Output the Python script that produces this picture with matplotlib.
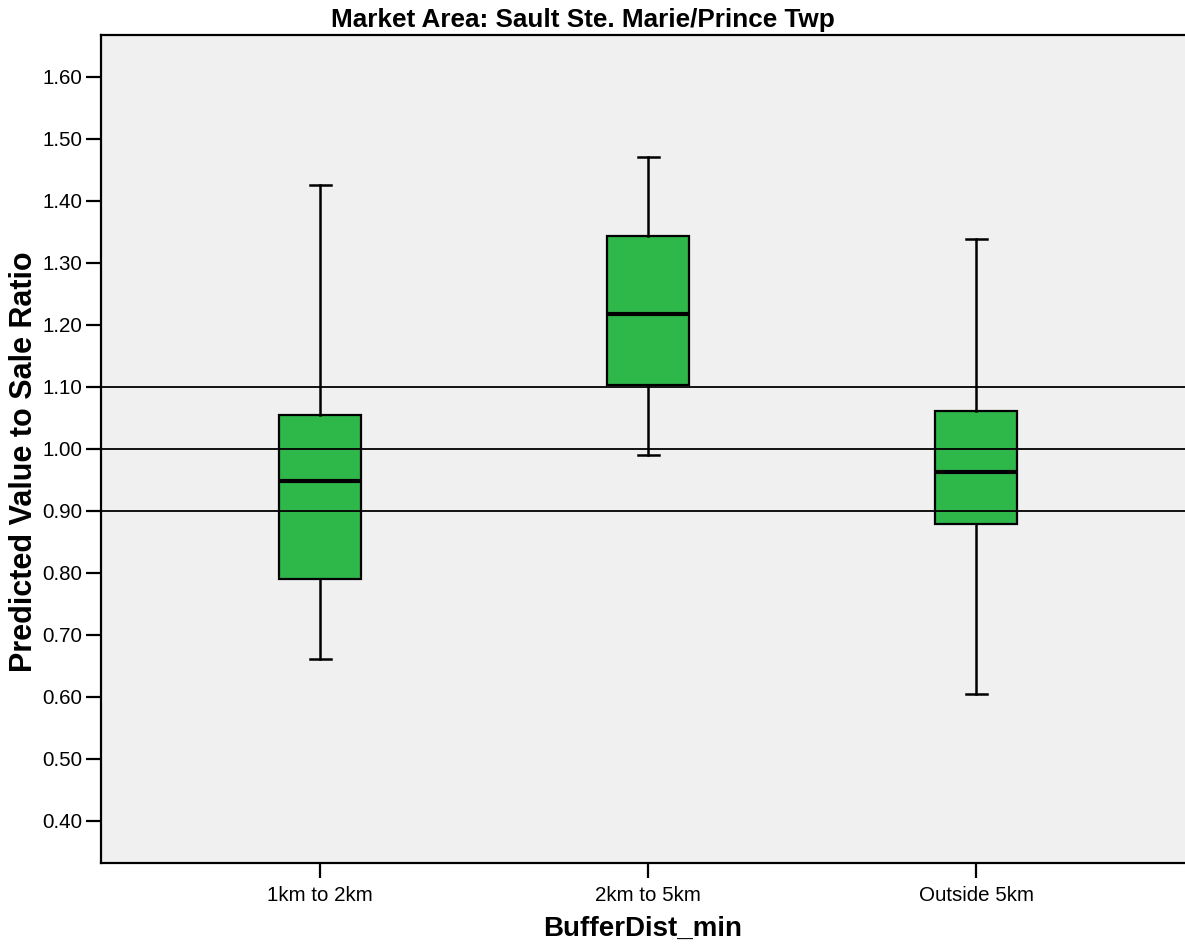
import matplotlib
matplotlib.use("Agg")
from matplotlib import pyplot as plt

plt.rcParams['font.family'] = ['Liberation Sans', 'DejaVu Sans']

# values
categories = ['1km to 2km', '2km to 5km', 'Outside 5km']
whisker_low = [0.662, 0.991, 0.605]
q1 = [0.790, 1.103, 0.879]
median = [0.949, 1.218, 0.963]
q3 = [1.055, 1.343, 1.062]
whisker_high = [1.425, 1.471, 1.338]
ref_lines = [0.90, 1.00, 1.10]
yticks = [0.40, 0.50, 0.60, 0.70, 0.80, 0.90, 1.00, 1.10, 1.20, 1.30, 1.40, 1.50, 1.60]

stats = []
for i, name in enumerate(categories):
    stats.append(dict(label=name, whislo=whisker_low[i], q1=q1[i], med=median[i],
                      q3=q3[i], whishi=whisker_high[i], fliers=[]))

fig = plt.figure(figsize=(11.85, 9.47), dpi=100)
ax = fig.add_axes([101/1185, 1-862.7/947, 1-101/1185, (862.7-35)/947])
ax.set_facecolor('#f0f0f0')

ax.bxp(stats, positions=range(len(categories)), widths=0.25, capwidths=0.064,
       patch_artist=True, showfliers=False,
       boxprops=dict(facecolor='#2fb84a', edgecolor='black', linewidth=1.6),
       medianprops=dict(color='black', linewidth=3),
       whiskerprops=dict(color='black', linewidth=1.8),
       capprops=dict(color='black', linewidth=1.8), zorder=2)

for y in ref_lines:
    ax.axhline(y, color='black', linewidth=1.3, zorder=3)

ax.set_xlim(-0.668, 2.637)
ax.set_ylim(0.3327, 1.6677)
ax.set_yticks(yticks)
ax.set_yticklabels(['%.2f' % v for v in yticks])
ax.set_xticks(range(len(categories)))
ax.set_xticklabels(categories)
ax.tick_params(axis='both', labelsize=14.8, length=10.5, width=1.6, color='black', pad=3)
ax.tick_params(axis='x', pad=6)

for side in ['left', 'bottom', 'top']:
    ax.spines[side].set_linewidth(1.6)
ax.spines['right'].set_visible(False)

ax.set_xlabel('BufferDist_min', fontsize=20, fontweight='bold', labelpad=8)
ax.set_ylabel('Predicted Value to Sale Ratio', fontsize=22, fontweight='bold')
ax.yaxis.set_label_coords(-0.057, 0.484)
fig.text(583/1185, 1-27/947, 'Market Area: Sault Ste. Marie/Prince Twp',
         ha='center', va='baseline', fontsize=18.8, fontweight='bold')

fig.savefig('out.png', dpi=100)
